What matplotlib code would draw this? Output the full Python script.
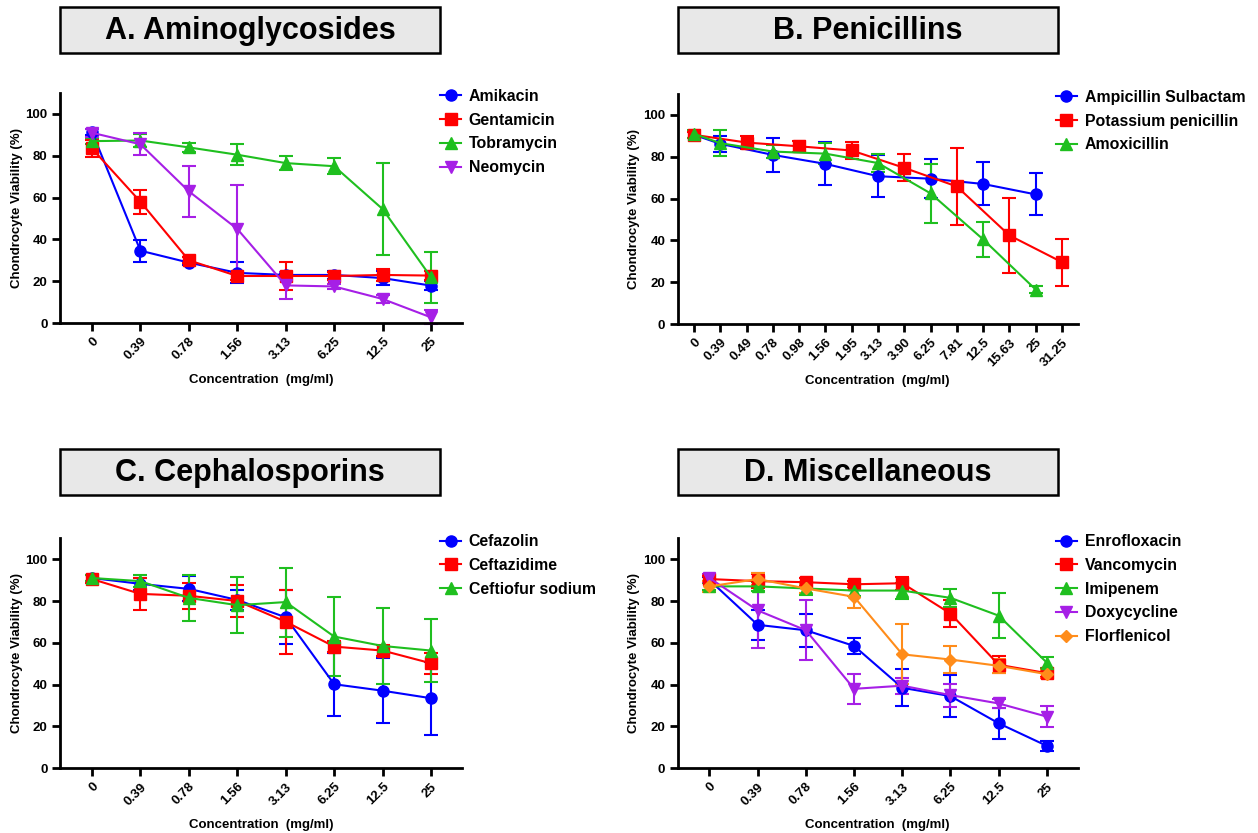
import numpy as np
import matplotlib.pyplot as plt
from matplotlib.patches import Rectangle

plt.rcParams['font.family'] = ['Liberation Sans', 'DejaVu Sans']
plt.rcParams['font.weight'] = 'bold'

# concentration labels (mg/ml)
conc8 = ['0', '0.39', '0.78', '1.56', '3.13', '6.25', '12.5', '25']
conc15 = ['0', '0.39', '0.49', '0.78', '0.98', '1.56', '1.95', '3.13',
          '3.90', '6.25', '7.81', '12.5', '15.63', '25', '31.25']
conc_pen_odd = ['0', '0.39', '0.78', '1.56', '3.13', '6.25', '12.5', '25']
conc_pen_even = ['0', '0.49', '0.98', '1.95', '3.90', '7.81', '15.63', '31.25']

# A. Aminoglycosides
amikacin = [91.5, 34.6, 28.9, 24.0, 23.0, 23.0, 21.5, 17.9]
amikacin_err = [1.5, 5.3, 1.0, 5.0, 1.0, 2.0, 3.5, 2.0]
gentamicin = [83.5, 58.0, 30.0, 22.5, 22.5, 22.5, 23.0, 22.7]
gentamicin_err = [4.0, 5.8, 1.5, 2.0, 6.8, 2.0, 2.8, 2.0]
tobramycin = [87.0, 87.3, 84.0, 80.5, 76.5, 75.0, 54.5, 21.9]
tobramycin_err = [1.5, 3.3, 2.0, 5.0, 3.5, 3.7, 22.0, 12.3]
neomycin = [91.0, 85.5, 63.0, 45.0, 18.0, 17.5, 11.5, 2.7]
neomycin_err = [2.0, 5.3, 12.3, 21.0, 6.3, 1.0, 2.0, 3.3]

# B. Penicillins
ampicillin = [90.5, 86.2, 80.9, 76.6, 70.7, 69.5, 67.0, 62.0]
ampicillin_err = [1.5, 3.8, 8.3, 10.3, 10.0, 9.2, 10.3, 10.0]
potassium = [90.5, 86.8, 85.0, 83.0, 74.7, 65.8, 42.4, 29.6]
potassium_err = [1.5, 3.0, 2.5, 4.0, 6.5, 18.5, 18.0, 11.3]
amoxicillin = [91.0, 86.5, 82.5, 81.5, 77.0, 62.5, 40.5, 16.5]
amoxicillin_err = [2.0, 6.3, 3.0, 5.0, 4.3, 14.0, 8.3, 1.8]

# C. Cephalosporins
cefazolin = [91.0, 88.2, 85.8, 80.5, 72.2, 40.2, 37.1, 33.5]
cefazolin_err = [1.5, 3.0, 6.0, 4.8, 13.0, 15.0, 15.5, 17.5]
ceftazidime = [90.5, 83.4, 82.5, 80.0, 70.1, 58.2, 56.3, 50.2]
ceftazidime_err = [2.0, 7.8, 6.3, 7.5, 15.3, 2.8, 2.8, 5.0]
ceftiofur = [91.0, 89.5, 81.5, 78.0, 79.5, 63.0, 58.5, 56.3]
ceftiofur_err = [1.5, 3.0, 11.0, 13.3, 16.5, 19.0, 18.0, 15.2]

# D. Miscellaneous
enrofloxacin = [90.0, 68.6, 66.0, 58.5, 38.5, 34.5, 21.5, 10.7]
enrofloxacin_err = [1.5, 7.3, 8.0, 3.8, 8.8, 10.0, 7.5, 2.5]
vancomycin = [90.5, 89.5, 89.0, 88.0, 88.5, 74.0, 49.5, 45.5]
vancomycin_err = [1.5, 3.5, 2.0, 1.5, 3.0, 6.5, 4.0, 2.0]
imipenem = [87.0, 87.0, 86.0, 85.0, 85.0, 81.5, 73.0, 50.5]
imipenem_err = [1.5, 2.0, 3.0, 2.5, 3.8, 4.3, 10.8, 2.5]
doxycycline = [91.0, 75.5, 66.0, 38.0, 39.5, 35.0, 31.0, 24.7]
doxycycline_err = [2.0, 17.8, 14.3, 7.3, 3.8, 5.5, 2.3, 5.0]
florfenicol = [87.0, 90.5, 86.0, 82.0, 54.5, 52.0, 49.0, 45.0]
florfenicol_err = [2.5, 3.0, 2.0, 5.3, 14.3, 6.3, 3.5, 1.8]

BLUE = '#0000ff'
RED = '#ff0000'
GREEN = '#1fbf1f'
PURPLE = '#a61fe6'
ORANGE = '#ff8c1a'

fig = plt.figure(figsize=(12.58, 8.33), dpi=100)

# title, axes rect, x categories, title box bottom (fig frac), series
panels = [
    ('A. Aminoglycosides', [0.0477, 0.6122, 0.3196, 0.2761], conc8, 0.9364, [
        ('Amikacin', conc8, amikacin, amikacin_err, BLUE, 'o', 8),
        ('Gentamicin', conc8, gentamicin, gentamicin_err, RED, 's', 8),
        ('Tobramycin', conc8, tobramycin, tobramycin_err, GREEN, '^', 8),
        ('Neomycin', conc8, neomycin, neomycin_err, PURPLE, 'v', 8),
    ]),
    ('B. Penicillins', [0.5387, 0.6110, 0.3180, 0.2761], conc15, 0.9364, [
        ('Ampicillin Sulbactam', conc_pen_odd, ampicillin, ampicillin_err, BLUE, 'o', 8),
        ('Potassium penicillin', conc_pen_even, potassium, potassium_err, RED, 's', 8),
        ('Amoxicillin', conc_pen_odd, amoxicillin, amoxicillin_err, GREEN, '^', 8),
    ]),
    ('C. Cephalosporins', [0.0477, 0.0777, 0.3196, 0.2761], conc8, 0.4058, [
        ('Cefazolin', conc8, cefazolin, cefazolin_err, BLUE, 'o', 8),
        ('Ceftazidime', conc8, ceftazidime, ceftazidime_err, RED, 's', 8),
        ('Ceftiofur sodium', conc8, ceftiofur, ceftiofur_err, GREEN, '^', 8),
    ]),
    ('D. Miscellaneous', [0.5387, 0.0777, 0.3180, 0.2761], conc8, 0.4058, [
        ('Enrofloxacin', conc8, enrofloxacin, enrofloxacin_err, BLUE, 'o', 8),
        ('Vancomycin', conc8, vancomycin, vancomycin_err, RED, 's', 8),
        ('Imipenem', conc8, imipenem, imipenem_err, GREEN, '^', 8),
        ('Doxycycline', conc8, doxycycline, doxycycline_err, PURPLE, 'v', 8),
        ('Florflenicol', conc8, florfenicol, florfenicol_err, ORANGE, 'D', 6),
    ]),
]

for title, rect, xlabels, box_y, series in panels:
    ax = fig.add_axes(rect)
    n = len(xlabels)
    handles = []
    for name, cx, y, err, color, marker, ms in series:
        x = [xlabels.index(c) for c in cx]
        cont = ax.errorbar(x, y, yerr=err, color=color, marker=marker, markersize=ms,
                           linewidth=1.5, elinewidth=1.5, capsize=5, capthick=1.5,
                           label=name, clip_on=False)
        handles.append(cont.lines[0])
    if n == 8:
        ax.set_xlim(-0.66, n - 0.36)
    else:
        ax.set_xlim(-0.62, n - 0.4)
    ax.set_ylim(0, 110)
    ax.set_yticks([0, 20, 40, 60, 80, 100])
    ax.set_xticks(range(n))
    ax.set_xticklabels(xlabels, rotation=45, ha='right', rotation_mode='anchor',
                       fontsize=9.5, fontweight='bold')
    for lab in ax.get_yticklabels():
        lab.set_fontsize(9.5)
        lab.set_fontweight('bold')
    ax.spines['top'].set_visible(False)
    ax.spines['right'].set_visible(False)
    ax.spines['left'].set_linewidth(2)
    ax.spines['bottom'].set_linewidth(2)
    ax.tick_params(axis='both', width=2, length=6, direction='out', pad=3)
    ax.set_ylabel('Chondrocyte Viability (%)', fontsize=9.5, fontweight='bold', labelpad=2)
    ax.set_xlabel('Concentration  (mg/ml)', fontsize=9.5, fontweight='bold')
    ax.xaxis.set_label_coords(0.5, -0.22)
    ax.legend(handles=handles, labels=[s[0] for s in series],
              loc='upper left', bbox_to_anchor=(0.93, 1.045), frameon=False,
              fontsize=11.4, handlelength=1.3, handletextpad=0.5, labelspacing=0.55,
              borderaxespad=0)

    # title box above the panel
    bx = rect[0]
    box = Rectangle((bx, box_y), 0.302, 0.055, transform=fig.transFigure,
                    facecolor='#e8e8e8', edgecolor='black', linewidth=1.8)
    fig.patches.append(box)
    fig.text(bx + 0.151, box_y + 0.0265, title, ha='center', va='center',
             fontsize=22, fontweight='bold')

plt.savefig('out.png', dpi=100)
